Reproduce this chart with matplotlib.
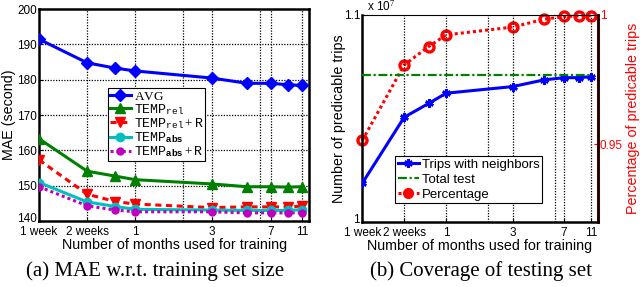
import matplotlib
matplotlib.use("Agg")
import matplotlib.pyplot as plt
from matplotlib.lines import Line2D
from matplotlib.transforms import ScaledTranslation

# ---- data ----
months = [0.25, 0.5, 0.75, 1, 3, 5, 7, 9, 11]
xtick_pos = [0.25, 0.5, 1, 3, 7, 11]
xtick_labels = ["1 week", "2 weeks", "1", "3", "7", "11"]
xgrid_pos = [0.5, 1, 2, 3, 6, 7, 11]

mae_avg = [191.5, 184.8, 183.3, 182.5, 180.5, 179.0, 179.0, 178.6, 178.4]
mae_rel = [163.3, 154.1, 152.7, 151.7, 150.5, 149.7, 149.7, 149.6, 149.7]
mae_rel_r = [157.3, 147.6, 145.5, 144.8, 143.8, 144.0, 144.0, 144.0, 144.2]
mae_abs = [150.9, 145.4, 144.1, 143.3, 143.1, 143.0, 143.0, 143.0, 143.2]
mae_abs_r = [149.7, 144.3, 143.1, 142.6, 142.6, 142.3, 142.3, 142.3, 142.3]

trips_neighbors = [1.0187e7, 1.0506e7, 1.0573e7, 1.0622e7, 1.0654e7, 1.0686e7, 1.0697e7, 1.0697e7, 1.0702e7]
total_test = [1.0709e7] * 9
percentage = [0.9515, 0.9807, 0.9878, 0.9923, 0.9953, 0.9983, 0.9994, 0.9996, 0.9997]

plt.rcParams['font.family'] = ['Liberation Sans', 'DejaVu Sans']
plt.rcParams['mathtext.fontset'] = 'custom'
plt.rcParams['mathtext.rm'] = 'Liberation Serif'
plt.rcParams['mathtext.tt'] = 'Liberation Mono'
plt.rcParams['mathtext.bf'] = 'Liberation Sans:bold'
plt.rcParams['mathtext.it'] = 'Liberation Serif:italic'

fig = plt.figure(figsize=(6.4, 2.87), dpi=100)

TFS = 8.5
LFS = 10.3


def style_xaxis(ax):
    ax.set_xscale('log')
    ax.set_xlim(0.25, 12.2)
    ax.set_xticks(xtick_pos)
    ax.set_xticklabels(xtick_labels, fontsize=TFS)
    ax.minorticks_off()
    for gx in xgrid_pos:
        ax.axvline(gx, color='black', linestyle=(0, (1, 1.2)), linewidth=0.9, zorder=0.5)
    ax.tick_params(axis='both', direction='in', length=3, pad=1.5, labelsize=TFS)
    ax.tick_params(axis='x', pad=3.5)
    ax.set_xlabel("Number of months used for training", fontsize=LFS, labelpad=0)


def lift_first_ylabel(ax):
    lab = ax.get_yticklabels()[0]
    lab.set_transform(lab.get_transform() + ScaledTranslation(0, 2.5 / 72, fig.dpi_scale_trans))


# ---- (a) ----
ax1 = fig.add_axes([0.061, 0.23, 0.422, 0.738])
style_xaxis(ax1)
ax1.set_ylim(140, 200)
ax1.set_yticks(range(140, 201, 10))
for gy in range(150, 200, 10):
    ax1.axhline(gy, color='black', linestyle=(0, (1, 1.2)), linewidth=0.9, zorder=0.5)
lw = 2.2
ax1.plot(months, mae_avg, color='#0000ff', marker='D', ms=6, lw=lw, label=r'$\mathrm{AVG}$', zorder=3)
ax1.plot(months, mae_rel, color='#008000', marker='^', ms=7, lw=lw,
         label=r'$\mathtt{TEMP}_{\mathtt{rel}}$', zorder=3)
ax1.plot(months, mae_rel_r, color='#ff0000', marker='v', ms=7, lw=lw, linestyle=(0, (2, 1.5)),
         label=r'$\mathtt{TEMP}_{\mathtt{rel}} + \mathtt{R}$', zorder=3)
ax1.plot(months, mae_abs, color='#00bfbf', marker='o', ms=6, lw=lw,
         label=r'$\mathtt{TEMP}_{\mathbf{abs}}$', zorder=3)
ax1.plot(months, mae_abs_r, color='#bf00bf', marker='o', ms=5, lw=lw, linestyle=(0, (1, 1)),
         label=r'$\mathtt{TEMP}_{\mathbf{abs}} + \mathtt{R}$', zorder=3)
ax1.set_ylabel("MAE (second)", fontsize=LFS, labelpad=1)
for s in ax1.spines.values():
    s.set_linewidth(1.8)
leg1 = ax1.legend(loc='upper left', bbox_to_anchor=(0.255, 0.626), fontsize=9.5,
                  frameon=True, fancybox=False, edgecolor='black', framealpha=1,
                  handlelength=1.6, handletextpad=0.2, borderpad=0.15, labelspacing=-0.05,
                  borderaxespad=0)
leg1.get_frame().set_linewidth(0.8)
lift_first_ylabel(ax1)

# ---- (b) ----
ax2 = fig.add_axes([0.566, 0.2265, 0.368, 0.7215])
style_xaxis(ax2)
ax2.set_ylim(1.0e7, 1.1e7)
ax2.set_yticks([1.0e7, 1.1e7])
ax2.set_yticklabels(["1", "1.1"], fontsize=TFS)
lift_first_ylabel(ax2)
ax2.text(0.02, 1.005, "x 10$^7$", transform=ax2.transAxes, fontsize=TFS, ha='left', va='bottom')
l_tn, = ax2.plot(months, trips_neighbors, color='#0000ff', marker=(6, 2, 0), ms=6, mew=1.8, lw=lw,
                 label='Trips with neighbors', zorder=3)
l_tt, = ax2.plot(months, total_test, color='#008000', linestyle=(0, (4, 1.2, 1, 1.2)), lw=1.6,
                 label='Total test', zorder=3)
ax2.set_ylabel("Number of predicable trips", fontsize=LFS, labelpad=-2)

ax3 = ax2.twinx()
ax3.set_ylim(0.92, 1.0)
ax3.set_yticks([0.95, 1.0])
ax3.set_yticklabels(["0.95", "1"], fontsize=TFS, color='red')
ax3.tick_params(axis='y', direction='in', length=3, pad=1.5, colors='red', labelsize=TFS)
l_pc, = ax3.plot(months, percentage, color='#ff0000', marker='o', ms=6.5, mfc='none', mew=2.4,
                 lw=lw, linestyle=(0, (1, 1)), label='Percentage', zorder=3, clip_on=False)
ax3.set_ylabel("Percentage of predicable trips", fontsize=LFS, color='red', labelpad=2)
for s in ax2.spines.values():
    s.set_linewidth(1.8)
ax2.spines['top'].set_linewidth(0.8)
for s in ax3.spines.values():
    s.set_visible(False)
ax3.spines['right'].set_visible(True)
ax3.spines['right'].set_color('red')
ax3.spines['right'].set_linewidth(2.2)

pc_handle = Line2D([], [], color='#ff0000', marker='o', ms=7, lw=lw, linestyle=(0, (1, 1)))
leg2 = ax2.legend([l_tn, l_tt, pc_handle], ['Trips with neighbors', 'Total test', 'Percentage'],
                  loc='lower left', bbox_to_anchor=(0.14, 0.09), fontsize=9.5,
                  frameon=True, fancybox=False, edgecolor='black', framealpha=1,
                  handlelength=1.6, handletextpad=0.2, borderpad=0.2, labelspacing=0.2,
                  borderaxespad=0)
leg2.get_frame().set_linewidth(0.8)
leg2.set_zorder(10)
ax2.set_zorder(ax3.get_zorder() + 1)
ax2.patch.set_visible(False)

# captions
fig.text(0.243, 0.022, "(a) MAE w.r.t. training set size", fontsize=15,
         family=['Liberation Serif', 'DejaVu Serif'], ha='center', va='bottom')
fig.text(0.752, 0.022, "(b) Coverage of testing set", fontsize=15,
         family=['Liberation Serif', 'DejaVu Serif'], ha='center', va='bottom')

fig.savefig("out.png", dpi=100)
